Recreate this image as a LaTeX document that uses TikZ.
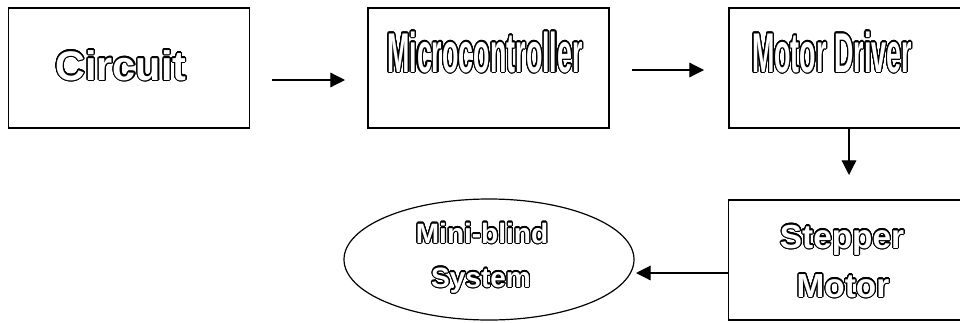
\documentclass[tikz,border=0pt]{standalone}
\usepackage{fontspec}
\setmainfont{Liberation Sans}
\usepackage{graphicx}
\usepackage{contour}
\contourlength{0.8pt}
\contournumber{32}
\usetikzlibrary{arrows.meta,shapes.geometric}
\newcommand{\outl}[1]{\textcolor{white}{\contour{black}{#1}}}
\newcommand{\outn}[1]{\textcolor{white}{\contour{black}{\scalebox{0.48}[1]{#1}}}}
\begin{document}
\begin{tikzpicture}[x=0.75pt,y=-0.75pt,
  blockbox/.style={draw=black,line width=0.9pt,rectangle,minimum width=180.75pt,minimum height=90pt,inner sep=0pt},
  ellbox/.style={draw=black,line width=0.9pt,ellipse,minimum width=217.5pt,minimum height=90.75pt,inner sep=0pt},
  arr/.style={line width=0.9pt,-{Triangle[length=11pt,width=11pt]}},
  bigtxt/.style={anchor=base,inner sep=0pt,font=\bfseries\fontsize{31pt}{31pt}\selectfont},
  narrowtxt/.style={anchor=base,inner sep=0pt,font=\bfseries\fontsize{42pt}{42pt}\selectfont},
  midtxt/.style={anchor=base,inner sep=0pt,font=\bfseries\fontsize{25pt}{25pt}\selectfont},
  smalltxt/.style={anchor=base,inner sep=0pt,font=\bfseries\fontsize{21pt}{21pt}\selectfont}]
\useasboundingbox (0,0) rectangle (960,322);
\fill[white] (0,0) rectangle (960,322);
% boxes
\node[blockbox] (circ) at (129,68) {};
\node[blockbox] (mcu) at (488.5,68) {};
\node[blockbox] (drv) at (849.5,68) {};
\node[blockbox] (step) at (849,260) {};
\node[ellbox] (blind) at (489,259.5) {};
% texts
\node[bigtxt] (tcirc) at (121,80) {\outl{Circuit}};
\node[narrowtxt] (tmcu) at (485,72) {\outn{Microcontroller}};
\node[narrowtxt] (tdrv) at (832,72) {\outn{Motor Driver}};
\node[midtxt] (tstep1) at (842,248) {\outl{Stepper}};
\node[midtxt] (tstep2) at (843,297) {\outl{Motor}};
\node[smalltxt] (tbl1) at (482,243) {\outl{Mini-blind}};
\node[smalltxt] (tbl2) at (481,287) {\outl{System}};
% connectors
\coordinate (a1s) at (272,80);
\coordinate (a1e) at (345,80);
\coordinate (a2s) at (632,70);
\coordinate (a2e) at (704,70);
\coordinate (dnend) at (849,175);
\coordinate (stout) at (728,273);
\coordinate (blin) at (636,273);
\draw[arr] (a1s) -- (a1e);
\draw[arr] (a2s) -- (a2e);
\draw[arr] (drv.south -| dnend) -- (dnend);
\draw[arr] (step.west |- stout) -- (blin);
\end{tikzpicture}
\end{document}
